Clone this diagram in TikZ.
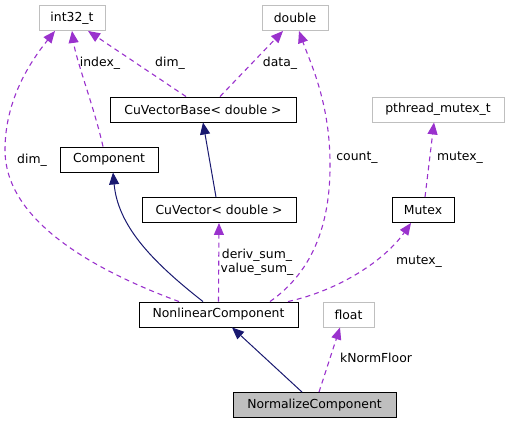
\documentclass[tikz,border=0pt]{standalone}
\usepackage{fontspec}
\setmainfont{DejaVu Sans}
\usetikzlibrary{arrows.meta}
\definecolor{dep}{HTML}{9A32CD}
\definecolor{inh}{HTML}{191970}
\definecolor{gbord}{HTML}{BFBFBF}
\begin{document}
\begin{tikzpicture}[x=1pt,y=-1pt,
  every node/.style={font=\fontsize{12.4}{14.5}\selectfont, inner sep=0pt},
  cls/.style={draw=black, line width=0.9pt, fill=white, minimum height=25pt},
  ext/.style={draw=gbord, line width=0.9pt, fill=white, minimum height=25pt},
  usedby/.style={draw=dep, line width=1.1pt, dash pattern=on 5pt off 4pt, -{Triangle[length=12pt,width=10pt]}},
  isa/.style={draw=inh, line width=1pt, -{Triangle[length=12pt,width=10pt,fill=inh]}},
  lbl/.style={align=center}]
\useasboundingbox (0,0) rectangle (510,424);
\node[ext, minimum width=66pt] (int) at (72,18) {int32\_t};
\node[ext, minimum width=66pt] (dbl) at (295,18) {double};
\node[cls, minimum width=186pt] (cvb) at (203,109.5) {CuVectorBase< double >};
\node[ext, minimum width=132pt] (pth) at (438,109.5) {pthread\_mutex\_t};
\node[cls, minimum width=98pt] (comp) at (109,159.5) {Component};
\node[cls, minimum width=154pt] (cv) at (219,210) {CuVector< double >};
\node[cls, minimum width=62pt] (mtx) at (423,210) {Mutex};
\node[cls, minimum width=159pt] (nlc) at (218.5,314.5) {NonlinearComponent};
\node[ext, minimum width=51pt] (flt) at (348.5,314.5) {float};
\node[cls, minimum width=163pt, fill=gbord] (norm) at (314.5,405) {NormalizeComponent};

% dependencies
\draw[usedby] ([xshift=-17pt]cvb.north) -- ([xshift=16pt]int.south);
\draw[usedby] ([xshift=17pt]cvb.north) -- ([xshift=-12pt]dbl.south);
\draw[usedby] ([xshift=-6pt]comp.north) .. controls (95,110) and (76,60) .. (int.south);
\draw[usedby] ([xshift=-39.5pt]nlc.north) .. controls (80,265) and (5,215) .. (5,150) .. controls (5,100) and (30,62) .. ([xshift=-17pt]int.south);
\draw[usedby] (nlc.north) -- (cv.south);
\draw[usedby] ([xshift=51.5pt]nlc.north) .. controls (315,270) and (331,220) .. (330,160) .. controls (329,100) and (310,62) .. ([xshift=4pt]dbl.south);
\draw[usedby] ([xshift=69.5pt]nlc.north) .. controls (340,290) and (385,260) .. ([xshift=-12pt]mtx.south);
\draw[usedby] ([xshift=2pt]mtx.north) -- ([xshift=-4pt]pth.south);
\draw[usedby] ([xshift=4.5pt]norm.north) -- ([xshift=-8.5pt]flt.south);

% inheritance
\draw[isa] ([xshift=-3pt]cv.north) -- (cvb.south);
\draw[isa] ([xshift=-15.5pt]nlc.north) .. controls (150,260) and (118,225) .. ([xshift=4pt]comp.south);
\draw[isa] ([xshift=-12.5pt]norm.north) -- ([xshift=13.5pt]nlc.south);

% labels
\node[lbl] (l1) at (170,63) {dim\_};
\node[lbl] (l2) at (100,63) {index\_};
\node[lbl] (l3) at (280,63) {data\_};
\node[lbl] (l4) at (32,160) {dim\_};
\node[lbl] (l5) at (357,158) {count\_};
\node[lbl] (l6) at (460,158) {mutex\_};
\node[lbl] (l7) at (257,262) {deriv\_sum\_\\value\_sum\_};
\node[lbl] (l8) at (419,262) {mutex\_};
\node[lbl] (l9) at (376,358) {kNormFloor};
\end{tikzpicture}
\end{document}
